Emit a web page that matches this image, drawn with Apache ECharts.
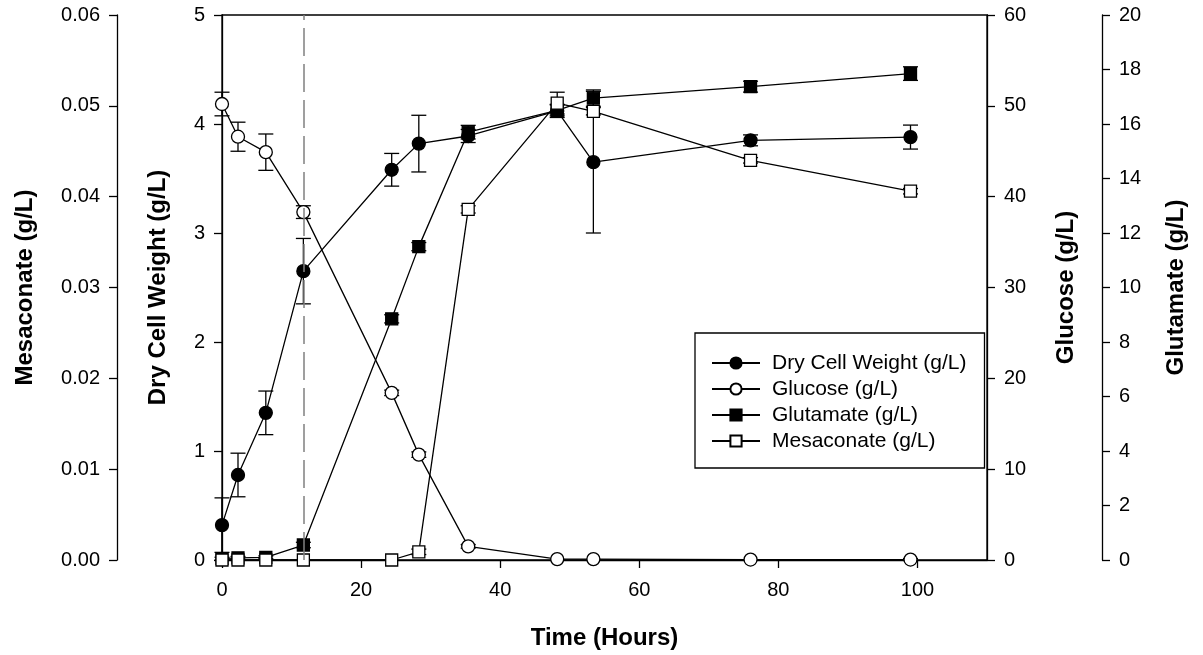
<!DOCTYPE html>
<html>
<head>
<meta charset="utf-8">
<script src="https://cdn.jsdelivr.net/npm/echarts@6/dist/echarts.min.js"></script>
<style>
html, body { margin: 0; padding: 0; background: #fff; }
#chart { width: 1203px; height: 655px; }
</style>
</head>
<body>
<div id="chart"></div>
<script>
// sampling times (hours)
var times = [0, 2.3, 6.3, 11.7, 24.4, 28.3, 35.4, 48.2, 53.4, 76, 99];
var xTicks = [0, 20, 40, 60, 80, 100];
var inductionTime = 11.7;

// dry cell weight (g/L), left axis
var dcw = [0.32, 0.78, 1.35, 2.65, 3.58, 3.82, 3.89, 4.12, 3.65, 3.85, 3.88];
var dcwErr = [0.25, 0.2, 0.2, 0.3, 0.15, 0.26, 0.06, 0.06, 0.65, 0.05, 0.11];

// glucose (g/L), right axis
var glucose = [50.2, 46.6, 44.9, 38.3, 18.4, 11.6, 1.5, 0.1, 0.1, 0.05, 0.05];
var glucoseErr = [1.3, 1.6, 2.0, 0.7, 0.3, 0.3, 0.2, 0, 0, 0, 0.1];

// glutamate (g/L), outer right axis
var glutamate = [0.05, 0.08, 0.1, 0.55, 8.85, 11.5, 15.7, 16.5, 16.95, 17.37, 17.85];
var glutamateErr = [0.05, 0.05, 0.05, 0.1, 0.15, 0.15, 0.25, 0.2, 0.3, 0.2, 0.25];

// mesaconate (g/L), outer left axis
var mesaconate = [0, 0, 0, 0, 0, 0.0009, 0.0386, 0.0503, 0.0494, 0.0440, 0.0406];
var mesaconateErr = [0, 0, 0, 0, 0, 0.0003, 0.0004, 0.0012, 0.0004, 0.0003, 0.0003];

var names = ['Dry Cell Weight (g/L)', 'Glucose (g/L)', 'Glutamate (g/L)', 'Mesaconate (g/L)'];

var font = "'Liberation Sans', Arial, sans-serif";

function pairs(vals) {
    var out = [];
    for (var i = 0; i < times.length; i++) out.push([times[i], vals[i]]);
    return out;
}

function errorBars(yIndex, vals, errs) {
    var d = [];
    for (var i = 0; i < times.length; i++) {
        if (errs[i] > 0) d.push([times[i], vals[i] - errs[i], vals[i] + errs[i]]);
    }
    return {
        type: 'custom',
        yAxisIndex: yIndex,
        z: 1,
        silent: true,
        encode: { x: 0, y: [1, 2] },
        renderItem: function (params, api) {
            var x = api.value(0);
            var lo = api.coord([x, api.value(1)]);
            var hi = api.coord([x, api.value(2)]);
            var w = 7.5;
            var st = { stroke: '#000', lineWidth: 1.3 };
            return {
                type: 'group',
                children: [
                    { type: 'line', shape: { x1: lo[0], y1: lo[1], x2: hi[0], y2: hi[1] }, style: st },
                    { type: 'line', shape: { x1: lo[0] - w, y1: lo[1], x2: lo[0] + w, y2: lo[1] }, style: st },
                    { type: 'line', shape: { x1: hi[0] - w, y1: hi[1], x2: hi[0] + w, y2: hi[1] }, style: st }
                ]
            };
        },
        data: d
    };
}

function lineSeries(name, yIndex, vals, symbol, filled) {
    return {
        name: name,
        type: 'line',
        yAxisIndex: yIndex,
        z: 3,
        symbol: symbol,
        symbolSize: symbol === 'rect' ? 12 : 13,
        showAllSymbol: true,
        lineStyle: { color: '#000', width: 1.3 },
        itemStyle: {
            color: filled ? '#000' : '#fff',
            borderColor: '#000',
            borderWidth: 1.3
        },
        data: pairs(vals)
    };
}

function yAxis(name, pos, offset, max, interval, nameGap, fmt) {
    return {
        type: 'value',
        name: name,
        position: pos,
        offset: offset,
        min: 0,
        max: max,
        interval: interval,
        nameLocation: 'middle',
        nameRotate: 90,
        nameGap: nameGap,
        nameTextStyle: { fontFamily: font, fontSize: 24, fontWeight: 'bold', color: '#000' },
        axisLine: { show: true, lineStyle: { color: '#000', width: 1.3 } },
        axisTick: { show: true, length: 8, lineStyle: { color: '#000', width: 1.3 } },
        axisLabel: { fontFamily: font, fontSize: 20, color: '#000', margin: 17, formatter: fmt },
        splitLine: { show: false }
    };
}

var dom = document.getElementById('chart');
var myChart = echarts.init(dom, null, { renderer: 'canvas' });
var option = null;
option = {
    animation: false,
    backgroundColor: '#fff',
    grid: {
        left: 222, right: 216, top: 15, bottom: 93,
        show: true, borderColor: '#000', borderWidth: 1.3
    },
    legend: {
        data: names,
        orient: 'vertical',
        left: 695,
        top: 333,
        padding: [17, 18, 14, 16],
        itemWidth: 48,
        itemHeight: 14,
        itemGap: 0,
        borderColor: '#000',
        borderWidth: 1.3,
        backgroundColor: '#fff',
        textStyle: { fontFamily: font, fontSize: 21, color: '#000', lineHeight: 26, padding: [0, 0, 0, 7] }
    },
    xAxis: {
        type: 'value',
        min: 0,
        max: 110,
        name: 'Time (Hours)',
        nameLocation: 'middle',
        nameGap: 66,
        nameTextStyle: { fontFamily: font, fontSize: 24, fontWeight: 'bold', color: '#000' },
        axisLine: { show: true, onZero: false, lineStyle: { color: '#000', width: 1.3 } },
        axisTick: { show: true, length: 8, customValues: xTicks, lineStyle: { color: '#000', width: 1.3 } },
        axisLabel: { fontFamily: font, fontSize: 20, color: '#000', margin: 20, customValues: xTicks },
        splitLine: { show: false }
    },
    yAxis: [
        yAxis('Dry Cell Weight (g/L)', 'left', 0, 5, 1, 52),
        yAxis('Mesaconate (g/L)', 'left', 105, 0.06, 0.01, 80, function (v) { return v.toFixed(2); }),
        yAxis('Glucose (g/L)', 'right', 0, 60, 10, 67),
        yAxis('Glutamate (g/L)', 'right', 115, 20, 2, 62)
    ],
    series: [
        errorBars(0, dcw, dcwErr),
        errorBars(2, glucose, glucoseErr),
        errorBars(3, glutamate, glutamateErr),
        errorBars(1, mesaconate, mesaconateErr),
        (function () {
            var s = lineSeries(names[0], 0, dcw, 'circle', true);
            s.markLine = {
                silent: true,
                symbol: 'none',
                label: { show: false },
                lineStyle: { color: '#808080', type: [28, 8], width: 1.5 },
                data: [{ xAxis: inductionTime }]
            };
            return s;
        })(),
        lineSeries(names[1], 2, glucose, 'circle', false),
        lineSeries(names[2], 3, glutamate, 'rect', true),
        lineSeries(names[3], 1, mesaconate, 'rect', false)
    ]
};
if (option && typeof option === "object") {
    myChart.setOption(option, true);
}
</script>
</body>
</html>
